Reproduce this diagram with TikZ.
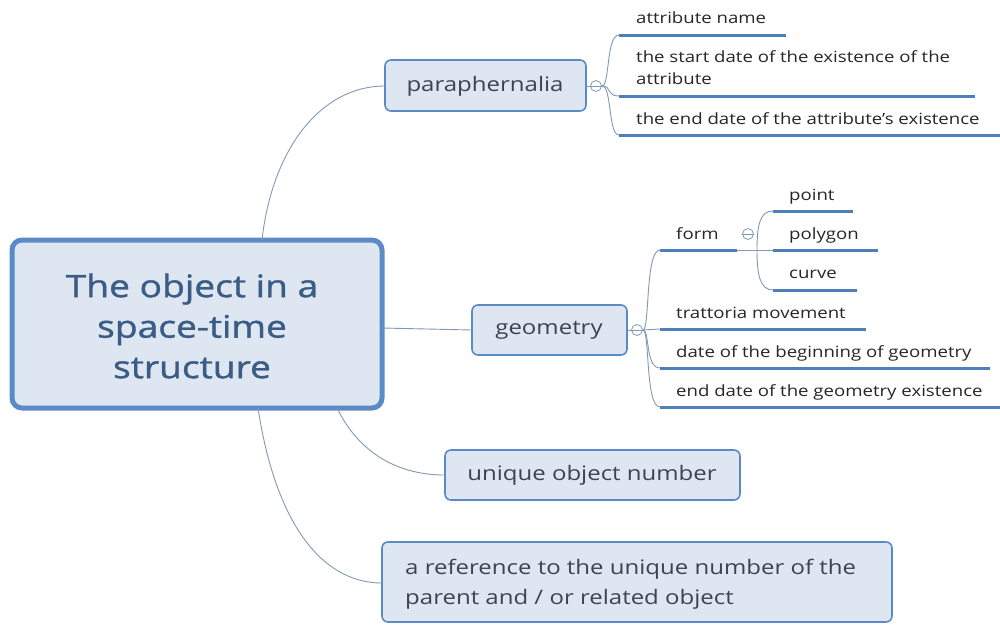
\documentclass[tikz,border=0pt]{standalone}
\usepackage{fontspec}
\setmainfont{Open Sans}[FakeStretch=1.2]
\newfontfamily\centfont{Open Sans}[FakeStretch=1.2, FakeBold=1.2]
\definecolor{boxfill}{HTML}{DDE6F1}
\definecolor{boxline}{HTML}{5B8BC6}
\definecolor{conn}{HTML}{8299B3}
\definecolor{uline}{HTML}{4F7FBA}
\definecolor{centxt}{HTML}{3A5C85}
\definecolor{boxtxt}{HTML}{3B4552}
\definecolor{leaftxt}{HTML}{262626}
\tikzset{
  mainbox/.style={draw=boxline, line width=5pt, fill=boxfill, rounded corners=10pt},
  subbox/.style={draw=boxline, line width=1.6pt, fill=boxfill, rounded corners=6pt},
  maintxt/.style={text=centxt, font=\centfont\fontsize{31}{40.5}\selectfont, align=center, inner sep=0pt},
  boxlabel/.style={text=boxtxt, font=\fontsize{20}{30}\selectfont, inner sep=0pt},
  leaf/.style={text=leaftxt, font=\fontsize{15.5}{22}\selectfont, anchor=base west, inner sep=0pt, align=left},
  conline/.style={draw=conn, line width=0.9pt},
  ul/.style={draw=uline, line width=3pt},
  toggle/.style={circle, draw=conn, line width=0.8pt, minimum size=11pt, inner sep=0pt},
}
\begin{document}
\begin{tikzpicture}[x=1pt,y=-1pt]
\useasboundingbox (0,0) rectangle (1000,624);
% boxes
\draw[mainbox] (12,240) rectangle (382,408);
\node[maintxt] (root) at (192,326) {The object in a\\space-time\\structure};
\coordinate (rootTop) at (262,240);
\coordinate (rootR) at (382,328);
\coordinate (rootB1) at (258,408);
\coordinate (rootB2) at (337,408);

\draw[subbox] (385,60) rectangle (586,111);
\node[boxlabel] (para) at (485,86) {paraphernalia};
\coordinate (paraL) at (385,86);
\coordinate (paraR) at (586,86);

\draw[subbox] (472,305) rectangle (627,355);
\node[boxlabel] (geo) at (549,330) {geometry};
\coordinate (geoL) at (472,330);
\coordinate (geoR) at (627,330);

\draw[subbox] (445,450) rectangle (740,500);
\node[boxlabel] (uniq) at (592,475) {unique object number};
\coordinate (uniqL) at (445,475);

\draw[subbox] (382,542) rectangle (892,622);
\node[boxlabel, align=left, anchor=west] (ref) at (405,584) {a reference to the unique number of the\\parent and / or related object};
\coordinate (refL) at (382,583);

% root connectors
\draw[conline] (rootTop) .. controls (272,150) and (320,86) .. (paraL);
\draw[conline] (rootR) -- (geoL);
\draw[conline] (rootB2) .. controls (360,455) and (400,475) .. (uniqL);
\draw[conline] (rootB1) .. controls (275,520) and (320,583) .. (refL);

% toggles
\node[toggle] (tp) at (596,86) {};
\node[toggle] (tg) at (637,330) {};
\node[toggle] (tf) at (748,234) {};
\draw[draw=conn, line width=0.8pt] (tp.west) -- (tp.east);
\draw[draw=conn, line width=0.8pt] (tg.west) -- (tg.east);
\draw[draw=conn, line width=0.8pt] (tf.west) -- (tf.east);
\draw[conline] (paraR) -- (tp.west);
\draw[conline] (geoR) -- (tg.west);

% paraphernalia leaves
\node[leaf] (p1) at (636,23) {attribute name};
\node[leaf] (p2) at (636,84) {the start date of the existence of the\\attribute};
\node[leaf] (p3) at (636,124) {the end date of the attribute's existence};
\coordinate (p1a) at (619,35); \coordinate (p1b) at (786,35);
\coordinate (p2a) at (619,96); \coordinate (p2b) at (975,96);
\coordinate (p3a) at (619,135); \coordinate (p3b) at (1000,135);
\draw[conline] (tp.east) .. controls (610,86) and (606,35) .. (p1a);
\draw[conline] (tp.east) .. controls (612,86) and (606,96) .. (p2a);
\draw[conline] (tp.east) .. controls (612,86) and (608,135) .. (p3a);
\draw[ul] (p1a) -- (p1b);
\draw[ul] (p2a) -- (p2b);
\draw[ul] (p3a) -- (p3b);

% geometry leaves
\node[leaf] (g1) at (676,239) {form};
\node[leaf] (g2) at (676,318) {trattoria movement};
\node[leaf] (g3) at (676,357) {date of the beginning of geometry};
\node[leaf] (g4) at (676,396) {end date of the geometry existence};
\coordinate (g1a) at (660,250); \coordinate (g1b) at (737,250);
\coordinate (g2a) at (660,329); \coordinate (g2b) at (866,329);
\coordinate (g3a) at (660,368); \coordinate (g3b) at (990,368);
\coordinate (g4a) at (660,407); \coordinate (g4b) at (1000,407);
\draw[conline] (tg.east) .. controls (650,330) and (645,250) .. (g1a);
\draw[conline] (tg.east) -- (g2a);
\draw[conline] (tg.east) .. controls (650,330) and (645,368) .. (g3a);
\draw[conline] (tg.east) .. controls (650,330) and (645,407) .. (g4a);
\draw[ul] (g1a) -- (g1b);
\draw[ul] (g2a) -- (g2b);
\draw[ul] (g3a) -- (g3b);
\draw[ul] (g4a) -- (g4b);

% form sub-leaves
\node[leaf] (f1) at (789,200) {point};
\node[leaf] (f2) at (789,239) {polygon};
\node[leaf] (f3) at (789,278) {curve};
\coordinate (f1a) at (773,211); \coordinate (f1b) at (853,211);
\coordinate (f2a) at (773,250); \coordinate (f2b) at (878,250);
\coordinate (f3a) at (773,290); \coordinate (f3b) at (857,290);
\coordinate (fj) at (757,250);
\draw[conline] (g1b) -- (f2a);
\draw[conline] (fj) .. controls (757,225) and (760,211) .. (f1a);
\draw[conline] (fj) .. controls (757,275) and (760,290) .. (f3a);
\draw[ul] (f1a) -- (f1b);
\draw[ul] (f2a) -- (f2b);
\draw[ul] (f3a) -- (f3b);
\end{tikzpicture}
\end{document}
